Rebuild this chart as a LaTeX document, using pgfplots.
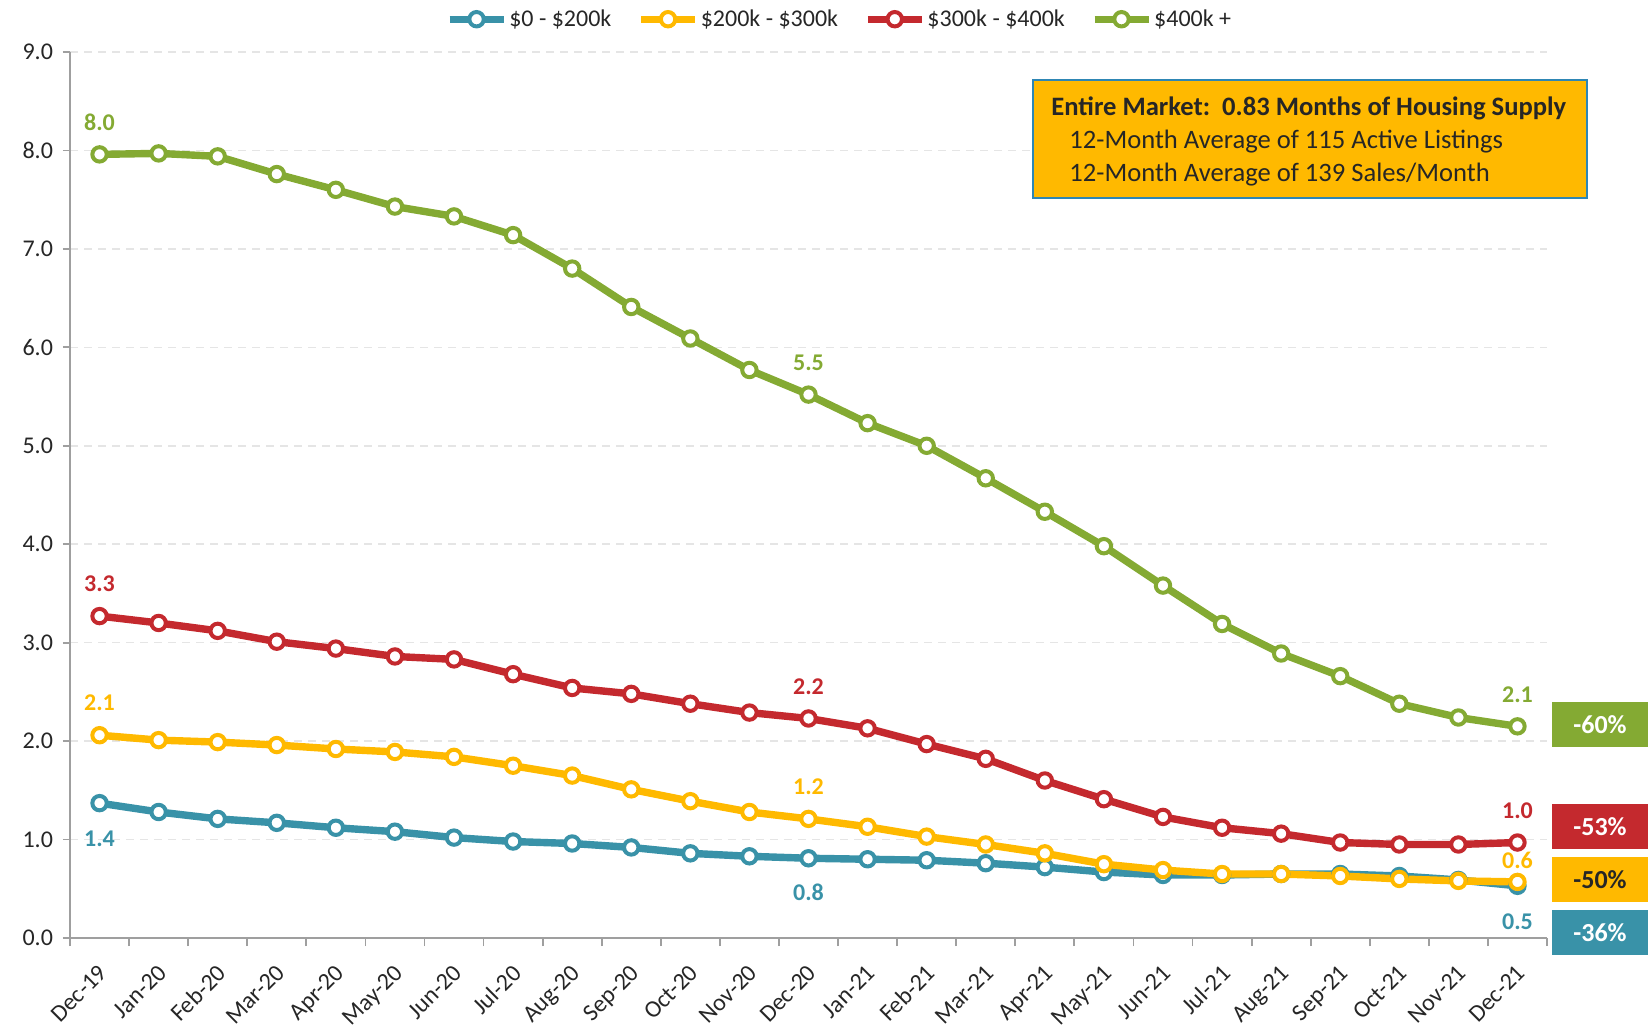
\documentclass[border=0pt]{standalone}
\usepackage{fontspec}
\setmainfont{Carlito}
\usepackage{pgfplots}
\pgfplotsset{compat=1.18}
\definecolor{cteal}{RGB}{57,146,168}
\definecolor{cgold}{RGB}{255,185,0}
\definecolor{cred}{RGB}{196,41,46}
\definecolor{cgreen}{RGB}{132,170,51}
\definecolor{ctext}{RGB}{38,38,38}
\definecolor{cborder}{RGB}{46,134,180}
\begin{document}
\begin{tikzpicture}[font=\fontsize{12}{14}\selectfont]
\path[use as bounding box] (-35pt,-45.5pt) rectangle (789pt,469pt);
\begin{axis}[
  at={(0,0)}, anchor=south west, scale only axis,
  width=738.5pt, height=443pt,
  xmin=-0.5, xmax=24.5, ymin=0, ymax=9,
  axis x line*=bottom, axis y line*=left,
  axis line style={gray!75, line width=0.9pt},
  tick align=outside,
  xtick={0,...,24},
  xticklabels={Dec-19,Jan-20,Feb-20,Mar-20,Apr-20,May-20,Jun-20,Jul-20,Aug-20,Sep-20,Oct-20,Nov-20,Dec-20,Jan-21,Feb-21,Mar-21,Apr-21,May-21,Jun-21,Jul-21,Aug-21,Sep-21,Oct-21,Nov-21,Dec-21},
  major x tick style={draw=none},
  minor xtick={-0.5,0.5,...,24.5},
  minor x tick style={gray!75, line width=0.9pt},
  minor tick length=4pt,
  major tick length=3.5pt,
  major y tick style={gray!75, line width=0.9pt},
  ytick={0,1,...,9},
  /pgf/number format/assume math mode=true,
  ticklabel style={text=ctext, font=\fontsize{12}{14}\selectfont},
  yticklabel style={xshift=-1.5pt, /pgf/number format/.cd, fixed, fixed zerofill, precision=1},
  xticklabel style={xshift=-1pt, yshift=-9pt, rotate=45, anchor=north east, inner sep=0pt, font=\fontsize{12}{14}\selectfont},
  ymajorgrids,
  grid style={dashed, dash pattern=on 4pt off 3pt, gray!20, line width=0.8pt},
  clip=false,
  legend columns=4,
  legend style={at={(0.521,1.037)}, anchor=center, draw=none, fill=none,
    font=\fontsize{12}{14}\selectfont, text=ctext, inner sep=0pt,
    nodes={inner xsep=1pt},
    /tikz/every odd column/.append style={column sep=0pt},
    /tikz/every even column/.append style={column sep=12pt}},
  legend image code/.code={%
    \draw[#1, mark repeat=2, mark phase=2] plot coordinates {(0pt,0pt) (13.5pt,0pt) (27pt,0pt)};},
  legend cell align=left,
  every axis plot/.append style={line width=3.7pt, mark=*, mark size=3.6pt},
]
\addplot[cteal, mark options={fill=white, draw=cteal, line width=2pt}] coordinates {
(0,1.37)(1,1.28)(2,1.21)(3,1.17)(4,1.12)(5,1.08)(6,1.02)(7,0.98)(8,0.96)(9,0.92)(10,0.86)(11,0.83)(12,0.81)
(13,0.80)(14,0.79)(15,0.76)(16,0.72)(17,0.67)(18,0.64)(19,0.64)(20,0.65)(21,0.65)(22,0.63)(23,0.59)(24,0.53)};
\addlegendentry{\$0 - \$200k}
\addplot[cgold, mark options={fill=white, draw=cgold, line width=2pt}] coordinates {
(0,2.06)(1,2.01)(2,1.99)(3,1.96)(4,1.92)(5,1.89)(6,1.84)(7,1.75)(8,1.65)(9,1.51)(10,1.39)(11,1.28)(12,1.21)
(13,1.13)(14,1.03)(15,0.95)(16,0.86)(17,0.75)(18,0.69)(19,0.65)(20,0.65)(21,0.63)(22,0.60)(23,0.58)(24,0.57)};
\addlegendentry{\$200k - \$300k}
\addplot[cred, mark options={fill=white, draw=cred, line width=2pt}] coordinates {
(0,3.27)(1,3.20)(2,3.12)(3,3.01)(4,2.94)(5,2.86)(6,2.83)(7,2.68)(8,2.54)(9,2.48)(10,2.38)(11,2.29)(12,2.23)
(13,2.13)(14,1.97)(15,1.82)(16,1.60)(17,1.41)(18,1.23)(19,1.12)(20,1.06)(21,0.97)(22,0.95)(23,0.95)(24,0.97)};
\addlegendentry{\$300k - \$400k}
\addplot[cgreen, mark options={fill=white, draw=cgreen, line width=2pt}] coordinates {
(0,7.96)(1,7.97)(2,7.94)(3,7.76)(4,7.60)(5,7.43)(6,7.33)(7,7.14)(8,6.80)(9,6.41)(10,6.09)(11,5.77)(12,5.52)
(13,5.23)(14,5.00)(15,4.67)(16,4.33)(17,3.98)(18,3.58)(19,3.19)(20,2.89)(21,2.66)(22,2.38)(23,2.24)(24,2.15)};
\addlegendentry{\$400k +}
% data labels
\begin{scope}[every node/.style={font=\bfseries\fontsize{12}{14}\selectfont}]
\node[text=cgreen] at (axis cs:0,7.96) [yshift=16pt] {8.0};
\node[text=cgreen] at (axis cs:12,5.52) [yshift=16pt] {5.5};
\node[text=cgreen] at (axis cs:24,2.15) [yshift=16pt] {2.1};
\node[text=cred] at (axis cs:0,3.27) [yshift=16pt] {3.3};
\node[text=cred] at (axis cs:12,2.23) [yshift=16pt] {2.2};
\node[text=cred] at (axis cs:24,0.97) [yshift=16pt] {1.0};
\node[text=cgold] at (axis cs:0,2.06) [yshift=16pt] {2.1};
\node[text=cgold] at (axis cs:12,1.21) [yshift=16pt] {1.2};
\node[text=cgold] at (axis cs:24,0.57) [yshift=10.5pt] {0.6};
\node[text=cteal] at (axis cs:0,1.37) [yshift=-18pt] {1.4};
\node[text=cteal] at (axis cs:12,0.81) [yshift=-17pt] {0.8};
\node[text=cteal] at (axis cs:24,0.53) [yshift=-18pt] {0.5};
\end{scope}
\end{axis}
% percentage boxes
\begin{scope}[every node/.style={minimum width=48pt, minimum height=22.5pt, inner sep=0pt, font=\bfseries\fontsize{13}{15}\selectfont}]
\node[fill=cgreen, text=white] at (765pt,106.75pt) {-60\%};
\node[fill=cred, text=white] at (765pt,55.75pt) {-53\%};
\node[fill=cgold, text=ctext] at (765pt,29.25pt) {-50\%};
\node[fill=cteal, text=white] at (765pt,2.75pt) {-36\%};
\end{scope}
% info box
\draw[fill=cgold, draw=cborder, line width=0.8pt] (481.5pt,370pt) rectangle (758.5pt,429pt);
\node[anchor=west, inner sep=0pt, text=ctext, font=\bfseries\fontsize{13.3}{15}\selectfont] at (490.5pt,415pt) {Entire Market:\ \ 0.83 Months of Housing Supply};
\node[anchor=west, inner sep=0pt, text=ctext, font=\fontsize{13.3}{15}\selectfont] at (499.5pt,398pt) {12-Month Average of 115 Active Listings};
\node[anchor=west, inner sep=0pt, text=ctext, font=\fontsize{13.3}{15}\selectfont] at (499.5pt,381.5pt) {12-Month Average of 139 Sales/Month};
\end{tikzpicture}
\end{document}
